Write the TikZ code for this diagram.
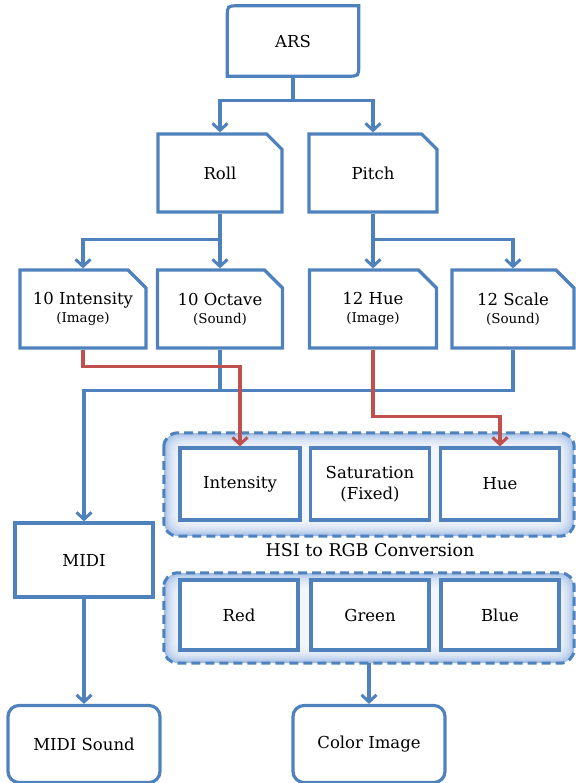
\documentclass[tikz,border=0pt]{standalone}
\usepackage{tikz}
\usepackage{fontspec}
\setmainfont{DejaVu Serif}
\usetikzlibrary{arrows.meta,shapes.misc}

\definecolor{linkblue}{RGB}{79,129,189}
\definecolor{linkred}{RGB}{192,80,77}
\definecolor{glowblue}{RGB}{160,188,230}
\newcommand{\subl}[1]{{\fontsize{13.5}{15}\selectfont #1}}

\tikzset{
  lbl/.style={font=\fontsize{16.5}{21}\selectfont, text=black, align=center, inner sep=0pt},
  tabbox/.style={lbl, draw=linkblue, line width=3.2pt, fill=white, chamfered rectangle,
    chamfered rectangle corners=north east, chamfered rectangle xsep=9pt,
    chamfered rectangle ysep=9pt, minimum height=78pt},
  plainbox/.style={lbl, draw=linkblue, line width=3.2pt, fill=white, minimum height=72pt},
  roundbox/.style={lbl, draw=linkblue, line width=3.2pt, fill=white, rounded corners=11pt,
    minimum width=152pt, minimum height=77pt},
  grp/.style={fill=glowblue, rounded corners=14pt, inner sep=0pt, minimum width=410pt},
  grpline/.style={draw=linkblue, line width=3pt, dashed, dash pattern=on 9pt off 5pt, rounded corners=14pt},
  wire/.style={draw=linkblue, line width=3.2pt},
  redwire/.style={draw=linkred, line width=3.2pt},
  tip/.style={-{Straight Barb[length=7pt,width=15pt,line width=3pt]}}
}

\begin{document}
\begin{tikzpicture}[x=1pt,y=-1pt]
\useasboundingbox (0,0) rectangle (575,783);

% top of the tree
\node[lbl, minimum width=131pt, minimum height=70pt] (ars) at (293,41) {ARS};
\draw[wire, line join=miter] (ars.south west) -- ([yshift=-11pt]ars.north west) .. controls (ars.north west) .. ([xshift=11pt]ars.north west)
  -- (ars.north east) -- ([yshift=11pt]ars.south east) .. controls (ars.south east) .. ([xshift=-11pt]ars.south east) -- cycle;

\node[tabbox, minimum width=124pt] (roll) at (220,173) {Roll};
\node[tabbox, minimum width=128pt] (pitch) at (373,173) {Pitch};

\node[tabbox, minimum width=126pt] (inten) at (83,309) {10 Intensity\\[-3pt]\subl{(Image)}};
\node[tabbox, minimum width=125pt] (octave) at (220,309) {10 Octave\\[-3pt]\subl{(Sound)}};
\node[tabbox, minimum width=127pt] (hue) at (373,309) {12 Hue\\[-3pt]\subl{(Image)}};
\node[tabbox, minimum width=122pt] (scale) at (513,309) {12 Scale\\[-3pt]\subl{(Sound)}};

% HSI groups
\node[grp, minimum height=103pt] (grpa) at (369,484.5) {};
\node[grp, minimum height=90pt] (grpb) at (369,618) {};
\foreach \k in {1,...,9}{
  \fill[white, opacity=0.22, rounded corners=12pt]
    ([xshift=\k*1.8pt, yshift=-\k*1.8pt]grpa.north west) rectangle ([xshift=-\k*1.8pt, yshift=\k*1.8pt]grpa.south east);
  \fill[white, opacity=0.22, rounded corners=12pt]
    ([xshift=\k*1.8pt, yshift=-\k*1.8pt]grpb.north west) rectangle ([xshift=-\k*1.8pt, yshift=\k*1.8pt]grpb.south east);
}
\draw[grpline] (grpa.north west) rectangle (grpa.south east);
\draw[grpline] (grpb.north west) rectangle (grpb.south east);

\node[plainbox, minimum width=120pt] (ibox) at (240,484) {Intensity};
\node[plainbox, minimum width=119pt] (sbox) at (370,484) {Saturation\\(Fixed)};
\node[plainbox, minimum width=119pt] (hbox) at (500,484) {Hue};

\node[lbl, font=\fontsize{17.5}{21}\selectfont] (hsi) at (370,550) {HSI to RGB Conversion};

\node[plainbox, minimum width=118pt, minimum height=70pt] (rbox) at (239,615) {Red};
\node[plainbox, minimum width=118pt, minimum height=70pt] (gbox) at (370,615) {Green};
\node[plainbox, minimum width=118pt, minimum height=70pt] (bbox) at (500,615) {Blue};

\node[plainbox, minimum width=138pt, minimum height=74pt] (midi) at (84,560) {MIDI};
\node[roundbox] (msound) at (84,744) {MIDI Sound};
\node[roundbox] (cimage) at (369,744) {Color Image};

% connectors
\draw[wire] (ars.south) -- ++(0,24) coordinate (j0);
\draw[wire, tip] (j0) -| (roll.north);
\draw[wire, tip] (j0) -| (pitch.north);
\draw[wire] (roll.south) -- ++(0,26) coordinate (j1);
\draw[wire, tip] (j1) -| (inten.north);
\draw[wire, tip] (j1) -- (octave.north);
\draw[wire] (pitch.south) -- ++(0,26) coordinate (j2);
\draw[wire, tip] (j2) -- (hue.north);
\draw[wire, tip] (j2) -| (scale.north);

\draw[wire] (octave.south) -- ++(0,41);
\draw[wire, tip] (scale.south) -- ++(0,41) -| (midi.north);
\draw[wire, tip] (midi.south) -- (msound.north);
\draw[wire, tip] (grpb.south) -- (cimage.north);

\draw[redwire, tip] (inten.south) -- ++(0,17) -| (ibox.north);
\draw[redwire, tip] (hue.south) -- ++(0,67) -| (hbox.north);
\end{tikzpicture}
\end{document}
